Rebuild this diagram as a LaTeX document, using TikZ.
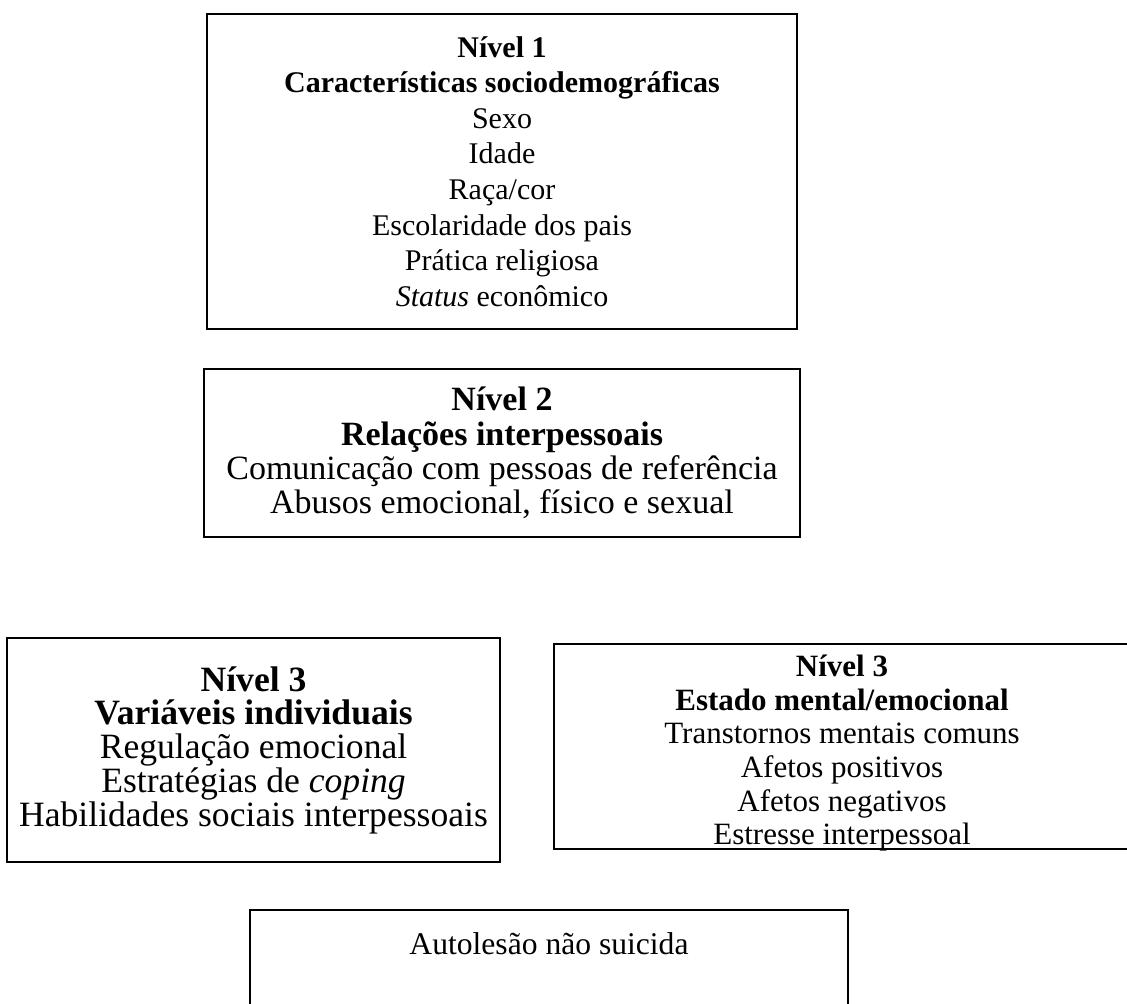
\documentclass[tikz,border=0pt]{standalone}
\usepackage{fontspec}
\setmainfont{Liberation Serif}
\usetikzlibrary{positioning}

\tikzset{
  caixa/.style={draw, line width=1.3pt, align=center, inner sep=0pt},
  moldura/.style={draw, line width=1.3pt, inner sep=0pt},
  texto/.style={align=center, inner sep=0pt},
}

\begin{document}
\begin{tikzpicture}[x=0.5pt, y=-0.5pt]
	%%% Area
	\useasboundingbox (0,0) rectangle (1127,1003);
	\clip (0,0) rectangle (1127,1003);
	%%% Nivel 1
	\node[caixa, minimum width=295pt, minimum height=157.5pt,
		font=\fontsize{15}{17.8}\selectfont] (nivel1) at (502,171.5)
		{\textbf{Nível 1}\\ \textbf{Características sociodemográficas}\\ Sexo\\ Idade\\
		 Raça/cor\\ Escolaridade dos pais\\ Prática religiosa\\ \textit{Status} econômico};
	%%% Nivel 2
	\node[caixa, minimum width=298pt, minimum height=84pt,
		font=\fontsize{17}{17.2}\selectfont] (nivel2) at (502,453)
		{\textbf{Nível 2}\\ \textbf{Relações interpessoais}\\
		 Comunicação com pessoas de referência\\ Abusos emocional, físico e sexual};
	%%% Nivel 3
	\node[caixa, minimum width=246.5pt, minimum height=112pt,
		font=\fontsize{17.8}{16.9}\selectfont] (individuais) at (253.5,750)
		{\textbf{Nível 3}\\ \textbf{Variáveis individuais}\\ Regulação emocional\\
		 Estratégias de \textit{coping}\\ Habilidades sociais interpessoais};
	\node[moldura, minimum width=288pt, minimum height=102.5pt] (mental) at (842,746.5) {};
	\begin{scope}
		\clip (mental.north west) rectangle (mental.south east);
		\node[texto, below=6pt of mental.north, font=\fontsize{15.5}{16.8}\selectfont] (estado)
			{\textbf{Nível 3}\\ \textbf{Estado mental/emocional}\\ Transtornos mentais comuns\\
			 Afetos positivos\\ Afetos negativos\\ Estresse interpessoal};
	\end{scope}
	%%% Desfecho
	\node[moldura, minimum width=299pt, minimum height=100pt] (autolesao) at (549,1010) {};
	\node[texto, below=11.5pt of autolesao.north, font=\fontsize{15.8}{18}\selectfont] (desfecho)
		{Autolesão não suicida};
\end{tikzpicture}
\end{document}
